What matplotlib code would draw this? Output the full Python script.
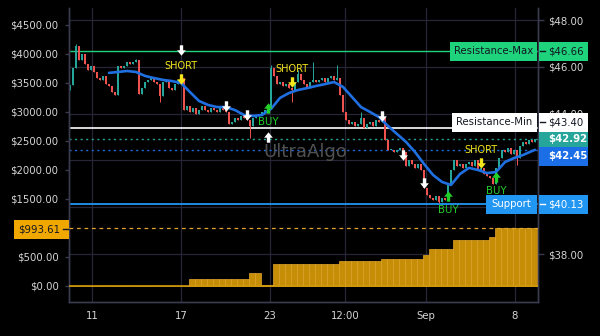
import numpy as np
import matplotlib
matplotlib.use('Agg')
import matplotlib.pyplot as plt
from matplotlib.patches import Rectangle
from matplotlib.transforms import IdentityTransform

# ---------------- data ----------------
first_open = 45.01
closes = [45.22, 45.95, 46.89, 46.29, 46.55, 46.12, 45.86, 46.03, 45.78, 45.52,
          45.44, 45.61, 45.26, 45.18, 44.92, 44.79, 46.03, 45.95, 46.03, 46.21,
          46.12, 46.21, 46.29, 44.84, 45.09, 45.35, 45.44, 45.52, 45.35, 45.26,
          44.75, 45.35, 45.44, 45.09, 45.01, 45.26, 45.44, 45.52, 44.15, 44.32,
          44.07, 44.24, 43.98, 44.15, 44.32, 44.15, 44.07, 44.24, 44.15, 44.07,
          44.24, 44.15, 44.07, 43.56, 43.64, 43.81, 43.73, 43.90, 43.81, 43.73,
          43.47, 43.81, 43.90, 43.98, 44.07, 44.15, 44.24, 45.95, 45.61, 45.26,
          45.35, 45.18, 45.26, 45.09, 45.01, 45.35, 45.69, 45.44, 45.26, 45.09,
          45.35, 45.44, 45.35, 45.44, 45.52, 45.35, 45.52, 45.61, 45.44, 45.52,
          44.79, 44.07, 43.73, 43.56, 43.64, 43.47, 43.56, 43.81, 43.38, 43.56,
          43.64, 43.47, 43.73, 43.64, 43.81, 42.87, 42.44, 42.44, 42.36, 42.44,
          42.53, 42.36, 41.76, 42.02, 41.85, 41.68, 41.85, 41.59, 40.82, 40.52,
          40.39, 40.31, 40.48, 40.22, 40.39, 40.31, 40.99, 41.59, 42.02, 41.76,
          41.85, 41.68, 41.85, 41.93, 41.76, 42.02, 41.59, 41.68, 41.42, 41.33,
          41.25, 40.99, 41.68, 42.10, 42.44, 42.36, 42.53, 42.27, 42.44, 42.10,
          42.62, 42.79, 42.70, 42.87, 42.79, 42.92]
high_spike_idx = [2, 22, 67, 76, 81, 89, 97]
high_spike_val = [46.97, 46.33, 46.08, 45.86, 46.21, 46.08, 44.07]
low_spike_idx = [30, 60, 74, 123, 149]
low_spike_val = [44.50, 42.96, 44.50, 40.16, 41.80]

ma_idx = list(range(13, 155, 3)) + [155]
ma_values = [45.74, 45.78, 45.82, 45.78, 45.61, 45.52, 45.44, 45.39, 45.31, 44.92,
             44.54, 44.37, 44.28, 44.28, 44.15, 43.94, 43.90, 43.94, 44.20, 44.67,
             44.88, 45.01, 45.09, 45.18, 45.26, 45.35, 45.14, 44.71, 44.28, 44.07,
             43.85, 43.47, 43.13, 42.79, 42.36, 41.85, 41.38, 41.08, 40.95, 41.42,
             41.68, 41.59, 41.46, 41.50, 41.93, 42.10, 42.23, 42.40, 42.45]

eq_step_start = [0, 39, 60, 64, 67, 90, 104, 118, 119, 128, 140, 142]
eq_step_value = [0, 120, 224, 12, 380, 430, 466, 534, 638, 793, 845, 993.61]

resistance_max = 46.66
resistance_min = 43.40
support = 40.13

white_down_idx = [37, 52, 59, 104, 111, 118]
white_down_price = [46.72, 44.32, 43.94, 43.90, 42.23, 41.03]
white_up_idx = [66]
white_up_price = [43.00]
short_idx = [37, 74, 137]
short_price = [45.48, 45.35, 41.89]
buy_idx = [66, 126, 142]
buy_price = [44.24, 40.48, 41.29]

xtick_pos = [7.3, 37, 66.7, 91.7, 118.7, 148.3]
xtick_labels = ['11', '17', '23', '12:00', 'Sep', '8']
price_ticks = [38, 40, 42, 44, 46, 48]
price_tick_labels = ['$38.00', '', '', '$44.00', '$46.00', '$48.00']
eq_ticks = [0, 500, 1000, 1500, 2000, 2500, 3000, 3500, 4000, 4500]
eq_tick_labels = ['$0.00', '$500.00', '', '$1500.00', '$2000.00', '$2500.00',
                  '$3000.00', '$3500.00', '$4000.00', '$4500.00']

# ---------------- figure ----------------
W, H = 600, 336
TXT = '#d6d6d6'
GRID = '#262636'
SPINE = '#3a3a50'
UP, DN = '#26a69a', '#ef5350'

fig = plt.figure(figsize=(W / 100, H / 100), dpi=100, facecolor='black')
ax = fig.add_axes([69 / W, 34 / H, 469 / W, 294 / H])
ax.set_facecolor('black')
axe = ax.twinx()
ax.yaxis.tick_right()
ax.yaxis.set_label_position('right')
axe.yaxis.tick_left()
axe.yaxis.set_label_position('left')

n = len(closes)
ax.set_xlim(-1 / 3, n)
ax.set_ylim(35.949, 48.513)
axe.set_ylim(-276, 4793)

ax.set_axisbelow(True)
ax.grid(True, color=GRID, lw=0.9)
for a in (ax, axe):
    a.spines['top'].set_visible(False)
    for s in ('left', 'right', 'bottom'):
        a.spines[s].set_color(SPINE)
        a.spines[s].set_linewidth(1)

ax.set_xticks(xtick_pos)
ax.set_xticklabels(xtick_labels)
ax.tick_params(axis='x', length=0, pad=6.5, labelsize=7.3, labelcolor=TXT)
ax.set_yticks(price_ticks)
ax.set_yticklabels(price_tick_labels)
ax.tick_params(axis='y', length=4, width=1, color=SPINE, pad=3, labelsize=7.3, labelcolor=TXT)
axe.set_yticks(eq_ticks)
axe.set_yticklabels(eq_tick_labels)
axe.tick_params(axis='y', length=3, width=1, color=SPINE, pad=4.5, labelsize=7.3, labelcolor=TXT)

# candles
idx = np.arange(n)
cl = np.array(closes)
op = np.array([first_open] + closes[:-1])
highs = np.maximum(op, cl)
lows = np.minimum(op, cl)
for i, v in zip(high_spike_idx, high_spike_val):
    highs[i] = max(highs[i], v)
for i, v in zip(low_spike_idx, low_spike_val):
    lows[i] = min(lows[i], v)
cols = np.where(cl >= op, UP, DN)
ax.vlines(idx, lows, highs, colors=cols, lw=0.7, zorder=3)
ax.bar(idx, np.maximum(np.abs(cl - op), 0.03), bottom=np.minimum(op, cl),
       width=0.55, color=cols, linewidth=0, zorder=3)

# moving average
ax.plot(ma_idx, ma_values, color='#1f6fe0', lw=1.9, zorder=4,
        solid_capstyle='round', solid_joinstyle='round')

# horizontal levels
ax.axhline(resistance_max, color='#22d27e', lw=1, zorder=2)
ax.axhline(resistance_min, color='#ffffff', lw=1.2, zorder=2)
ax.axhline(closes[-1], color=UP, lw=1, ls=(0, (1.5, 2.5)), zorder=2)
ax.axhline(ma_values[-1], color='#1f6fe0', lw=1, ls=(0, (1.5, 2.5)), zorder=2)
ax.axhline(support, color='#2196f3', lw=1.3, zorder=2)

# equity
eq = np.zeros(n)
for s, v in zip(eq_step_start, eq_step_value):
    eq[s:] = v
bx = idx[::2]
axe.bar(bx + 0.5, eq[bx], width=2, bottom=0, color='#c68d06',
        edgecolor='#e3a62e', linewidth=0.5, zorder=2)
axe.axhline(0, color='#d49a0c', lw=1.2, zorder=3)
axe.axhline(eq_step_value[-1], color='#e0a52a', lw=0.9, ls=(0, (3, 3)), zorder=3)

# signals
down_arrow = [(-0.16, 0.5), (0.16, 0.5), (0.16, 0.02), (0.42, 0.02), (0, -0.5),
              (-0.42, 0.02), (-0.16, 0.02), (-0.16, 0.5)]
up_arrow = [(x, -y) for x, y in down_arrow]
ax.plot(white_down_idx, white_down_price, ls='none', marker=down_arrow, ms=7.5,
        color='white', mew=0, zorder=6)
ax.plot(white_up_idx, white_up_price, ls='none', marker=up_arrow, ms=7.5,
        color='white', mew=0, zorder=6)
ax.plot(short_idx, short_price, ls='none', marker=down_arrow, ms=7.5,
        color='#f5e61c', mew=0, zorder=6)
ax.plot(buy_idx, buy_price, ls='none', marker=up_arrow, ms=7.5,
        color='#22d02a', mew=0, zorder=6)
for i, p in zip(short_idx, short_price):
    ax.annotate('SHORT', (i, p), xytext=(0, 9.5), textcoords='offset points',
                ha='center', va='center', color='#f5e61c', fontsize=7, zorder=7)
for i, p in zip(buy_idx, buy_price):
    ax.annotate('BUY', (i, p), xytext=(0, -10), textcoords='offset points',
                ha='center', va='center', color='#22d02a', fontsize=7.3, zorder=7)

# watermark
fig.text(305, H - 152, 'UltraAlgo', transform=IdentityTransform(), ha='center',
         va='center', color='#505050', fontsize=13, zorder=1)

# ---------------- label boxes ----------------
def ypx(a, v):
    return H - a.transData.transform((0, v))[1]

def box(x0, x1, yc, fc, h=19):
    fig.add_artist(Rectangle((x0, H - yc - h / 2), x1 - x0, h, transform=IdentityTransform(),
                             facecolor=fc, edgecolor='none', zorder=5))

def label(x, yc, s, color, ha='left', bold=False):
    fig.text(x, H - yc, s, transform=IdentityTransform(), ha=ha, va='center',
             color=color, fontsize=7.3, fontweight='bold' if bold else 'normal', zorder=6)

def dash(x0, x1, yc, color):
    fig.add_artist(plt.Line2D([x0, x1], [H - yc, H - yc], transform=IdentityTransform(),
                              color=color, lw=1, zorder=6))

DARK = '#131722'
# Resistance-Max
y = ypx(ax, resistance_max)
box(450, 537, y, '#1ed37c'); box(538.5, 588, y, '#1ed37c')
label(493.5, y, 'Resistance-Max', DARK, ha='center')
label(548, y, f'${resistance_max:.2f}', DARK); dash(540, 545, y, DARK)
# Resistance-Min
y = ypx(ax, resistance_min) - 5.5
box(452, 537, y, '#ffffff'); box(538.5, 588, y, '#ffffff')
label(494.5, y, 'Resistance-Min', DARK, ha='center')
label(548, y, f'${resistance_min:.2f}', DARK); dash(540, 545, y, DARK)
# last price
y = ypx(ax, closes[-1])
box(538.5, 588, y + 2.5, UP)
label(548, y, f'${closes[-1]:.2f}', 'white', bold=True)
# MA value
y = ypx(ax, ma_values[-1]) + 6.5
box(538.5, 588, y, '#1b6ee6')
label(548, y, f'${ma_values[-1]:.2f}', 'white', bold=True)
# Support
y = ypx(ax, support)
box(486, 537, y, '#2196f3'); box(538.5, 588, y, '#2196f3')
label(511.5, y, 'Support', 'white', ha='center')
label(548, y, f'${support:.2f}', 'white'); dash(540, 545, y, 'white')
# equity value
y = ypx(axe, eq_step_value[-1]) + 1
box(14, 68.5, y, '#f0a800')
label(60, y, f'${eq_step_value[-1]:.2f}', DARK, ha='right'); dash(63, 68, y, DARK)

fig.savefig('out.png', dpi=100, facecolor='black')
